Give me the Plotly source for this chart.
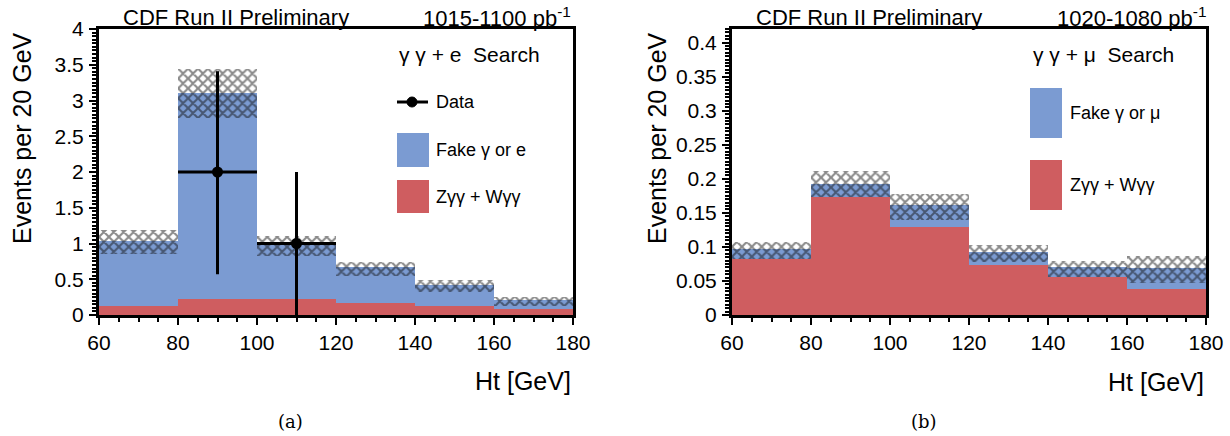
import plotly.graph_objects as go
from plotly.subplots import make_subplots

# ---------------- data ----------------
bin_centers = [70, 90, 110, 130, 150, 170]
bin_width = 20

# (a) gamma gamma + e
e_zgg = [0.12, 0.225, 0.23, 0.17, 0.12, 0.087]
e_total = [1.04, 3.11, 0.99, 0.665, 0.423, 0.209]
e_band_low = [0.85, 2.75, 0.82, 0.55, 0.325, 0.13]
e_band_high = [1.19, 3.44, 1.105, 0.748, 0.488, 0.246]
e_data_x = [90, 110]
e_data_y = [2, 1]
e_data_err_up = [1.41, 1.0]
e_data_err_down = [1.43, 1.0]

# (b) gamma gamma + mu
m_zgg = [0.082, 0.1736, 0.129, 0.0738, 0.0557, 0.038]
m_total = [0.0966, 0.1917, 0.1614, 0.092, 0.0700, 0.0692]
m_band_low = [0.082, 0.1736, 0.140, 0.078, 0.0562, 0.0465]
m_band_high = [0.1066, 0.211, 0.177, 0.1027, 0.0790, 0.0866]

x_ticks = [60, 80, 100, 120, 140, 160, 180]

BLUE = "#7b9bd2"
RED = "#cf5d60"
FONT = "Liberation Sans, Arial, sans-serif"

W, H = 1230, 436


def px(x):
    return x / W


def py(y):
    return 1 - y / H


fig = make_subplots(rows=1, cols=2)


def add_panel(col, zgg, total, lo, hi):
    fig.add_trace(go.Bar(x=bin_centers, y=zgg, width=[bin_width] * len(bin_centers),
                         marker=dict(color=RED, line=dict(width=0)), showlegend=False),
                  row=1, col=col)
    fig.add_trace(go.Bar(x=bin_centers, y=[t - z for t, z in zip(total, zgg)], base=zgg,
                         width=[bin_width] * len(bin_centers),
                         marker=dict(color=BLUE, line=dict(width=0)), showlegend=False),
                  row=1, col=col)
    fig.add_trace(go.Bar(x=bin_centers, y=[h - l for h, l in zip(hi, lo)], base=lo,
                         width=[bin_width] * len(bin_centers),
                         marker=dict(color="rgba(0,0,0,0)", line=dict(width=0),
                                     pattern=dict(shape="x", fgcolor="#111111",
                                                  bgcolor="rgba(0,0,0,0)", size=7,
                                                  solidity=0.5, fillmode="overlay")),
                         showlegend=False),
                  row=1, col=col)


add_panel(1, e_zgg, e_total, e_band_low, e_band_high)
add_panel(2, m_zgg, m_total, m_band_low, m_band_high)

fig.add_trace(go.Scatter(x=e_data_x, y=e_data_y, mode="markers",
                         marker=dict(color="black", size=11),
                         error_y=dict(type="data", array=e_data_err_up,
                                      arrayminus=e_data_err_down, color="black",
                                      thickness=3, width=0),
                         error_x=dict(type="constant", value=bin_width / 2, color="black",
                                      thickness=3, width=0),
                         showlegend=False, cliponaxis=False),
              row=1, col=1)

ydom = [py(315), py(29)]
axis_common = dict(showline=True, linewidth=3, linecolor="black", mirror=True,
                   showgrid=False, zeroline=False, ticks="outside", ticklen=7,
                   tickwidth=2, tickcolor="black", automargin=False,
                   tickfont=dict(family=FONT, size=21, color="black"))

fig.update_xaxes(range=[60, 180], tickvals=x_ticks, **axis_common,
                 minor=dict(ticks="outside", ticklen=4, tickwidth=1.5, dtick=5,
                            tickcolor="black"))
fig.update_xaxes(domain=[px(99), px(573)], row=1, col=1)
fig.update_xaxes(domain=[px(732), px(1206)], row=1, col=2)

fig.update_yaxes(**axis_common, domain=ydom, ticklabelstandoff=1)
fig.update_yaxes(range=[0, 4], dtick=0.5,
                 minor=dict(ticks="outside", ticklen=4, tickwidth=1.5, dtick=0.05,
                            tickcolor="black"), row=1, col=1)
fig.update_yaxes(range=[0, 0.42], dtick=0.05,
                 minor=dict(ticks="outside", ticklen=4, tickwidth=1.5, dtick=0.005,
                            tickcolor="black"), row=1, col=2)

ann = []


def text(x, y, s, size, xanchor="left", yanchor="middle", angle=0, family=FONT):
    ann.append(dict(x=px(x), y=py(y), xref="paper", yref="paper", text=s,
                    showarrow=False, xanchor=xanchor, yanchor=yanchor, textangle=angle,
                    font=dict(family=family, size=size, color="black")))


# panel (a)
text(236, 17, "CDF Run II Preliminary", 22, xanchor="center")
text(573, 17, "1015-1100 pb<sup>-1</sup>", 22, xanchor="right")
text(22, 30, "Events per 20 GeV", 25, xanchor="center", yanchor="top", angle=-90)
text(573, 381, "Ht [GeV]", 25, xanchor="right")
text(290, 421, "(a)", 18, xanchor="center", family="DejaVu Serif, serif")
text(397, 54, "γ γ + e  Search", 21)
text(434, 102, "Data", 18)
text(434, 150, "Fake γ or e", 18)
text(434, 197, "Zγγ + Wγγ", 18)

# panel (b)
text(869, 17, "CDF Run II Preliminary", 22, xanchor="center")
text(1208, 17, "1020-1080 pb<sup>-1</sup>", 22, xanchor="right")
text(657, 30, "Events per 20 GeV", 25, xanchor="center", yanchor="top", angle=-90)
text(1206, 382, "Ht [GeV]", 25, xanchor="right")
text(924, 421, "(b)", 18, xanchor="center", family="DejaVu Serif, serif")
text(1031, 54, "γ γ + μ  Search", 21)
text(1068, 113, "Fake γ or μ", 18)
text(1068, 185, "Zγγ + Wγγ", 18)

shapes = [
    # legend (a)
    dict(type="line", xref="paper", yref="paper", x0=px(397), x1=px(428), y0=py(102),
         y1=py(102), line=dict(color="black", width=3)),
    dict(type="circle", xref="paper", yref="paper", x0=px(407), x1=px(417), y0=py(97),
         y1=py(107), fillcolor="black", line=dict(color="black", width=1)),
    dict(type="rect", xref="paper", yref="paper", x0=px(397), x1=px(429), y0=py(133),
         y1=py(167), fillcolor=BLUE, line=dict(width=0)),
    dict(type="rect", xref="paper", yref="paper", x0=px(397), x1=px(429), y0=py(180),
         y1=py(213), fillcolor=RED, line=dict(width=0)),
    # legend (b)
    dict(type="rect", xref="paper", yref="paper", x0=px(1030), x1=px(1062), y0=py(88),
         y1=py(138), fillcolor=BLUE, line=dict(width=0)),
    dict(type="rect", xref="paper", yref="paper", x0=px(1030), x1=px(1062), y0=py(160),
         y1=py(210), fillcolor=RED, line=dict(width=0)),
]

fig.update_layout(width=W, height=H,
                  margin=dict(l=0, r=0, t=0, b=0, pad=0, autoexpand=False),
                  paper_bgcolor="white", plot_bgcolor="white",
                  barmode="overlay", bargap=0, showlegend=False,
                  annotations=ann, shapes=shapes,
                  font=dict(family=FONT, color="black"))

fig.write_html("out.html", config={"displayModeBar": False},
               post_script="document.body.style.margin='0';"
                           "document.body.style.overflow='hidden';")
